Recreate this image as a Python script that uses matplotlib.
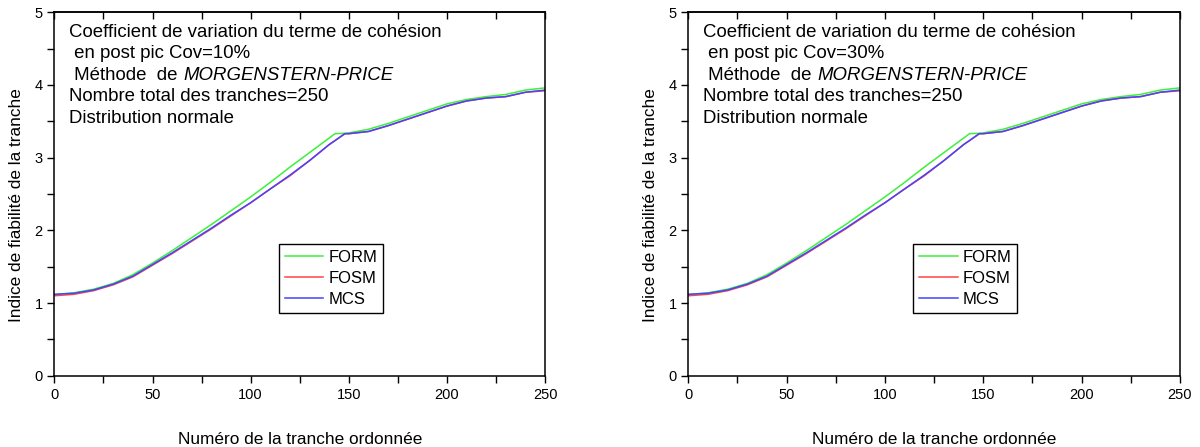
import matplotlib
matplotlib.use("Agg")
import matplotlib.pyplot as plt
from matplotlib.ticker import MultipleLocator

plt.rcParams.update({"font.family": ["Liberation Sans", "DejaVu Sans"]})

# tranche number (ordered)
tranche = [0, 10, 20, 30, 40, 50, 60, 70, 80, 90, 100, 110, 120, 130, 140,
           143, 148, 150, 160, 170, 180, 190, 200, 210, 220, 230, 240, 250]

# reliability index per method (same read-out for both panels)
form = [1.115, 1.14, 1.19, 1.27, 1.39, 1.55, 1.72, 1.90, 2.08, 2.27, 2.46,
        2.66, 2.87, 3.07, 3.27, 3.33, 3.335, 3.34, 3.39, 3.47, 3.56, 3.65,
        3.74, 3.80, 3.84, 3.87, 3.93, 3.96]
fosm = [1.10, 1.12, 1.17, 1.25, 1.36, 1.52, 1.68, 1.85, 2.02, 2.20, 2.38,
        2.57, 2.75, 2.96, 3.18, 3.235, 3.33, 3.33, 3.36, 3.44, 3.53, 3.62,
        3.71, 3.78, 3.82, 3.84, 3.90, 3.92]
mcs = [1.12, 1.135, 1.18, 1.26, 1.37, 1.53, 1.69, 1.86, 2.03, 2.21, 2.38,
       2.57, 2.76, 2.96, 3.18, 3.236, 3.33, 3.33, 3.36, 3.44, 3.53, 3.62,
       3.71, 3.78, 3.82, 3.84, 3.90, 3.93]

cov_labels = ["10%", "30%"]

GREEN, RED, BLUE = "#3cf03c", "#ff4444", "#4444ff"
FS_TXT = 13.4
FS_LAB = 12.4
FS_LEG = 12

fig = plt.figure(figsize=(12, 4.47), dpi=100)
axes = [fig.add_axes([0.0453, 0.1595, 0.409, 0.813]),
        fig.add_axes([0.5736, 0.1595, 0.4097, 0.813])]

for ax, cov in zip(axes, cov_labels):
    ax.plot(tranche, form, color=GREEN, lw=1.1, label="FORM")
    ax.plot(tranche, fosm, color=RED, lw=1.1, label="FOSM")
    ax.plot(tranche, mcs, color=BLUE, lw=1.1, label="MCS")

    ax.set_xlim(0, 250)
    ax.set_ylim(0, 5)
    ax.xaxis.set_major_locator(MultipleLocator(50))
    ax.xaxis.set_minor_locator(MultipleLocator(25))
    ax.yaxis.set_major_locator(MultipleLocator(1))
    ax.yaxis.set_minor_locator(MultipleLocator(0.5))
    ax.tick_params(which="both", direction="out", length=5, width=1,
                   labelsize=10.5, top=False, right=False)
    for sp in ax.spines.values():
        sp.set_linewidth(1.1)

    # top axis: inward ticks, no labels
    top = ax.secondary_xaxis("top")
    top.xaxis.set_major_locator(MultipleLocator(50))
    top.xaxis.set_minor_locator(MultipleLocator(25))
    top.tick_params(which="both", direction="in", length=5, width=1,
                    labeltop=False)
    top.spines["top"].set_linewidth(1.1)

    ax.set_xlabel("Numéro de la tranche ordonnée", fontsize=FS_LAB)
    ax.set_ylabel("Indice de fiabilité de la tranche", fontsize=FS_LAB)
    ax.xaxis.set_label_coords(0.5, -0.155)
    ax.yaxis.set_label_coords(-0.062, 0.47)

    x0, y0, dy = 0.0305, 0.945, 0.0592
    ax.text(x0, y0, "Coefficient de variation du terme de cohésion",
            transform=ax.transAxes, fontsize=FS_TXT, va="center")
    ax.text(x0, y0 - dy, " en post pic Cov=" + cov,
            transform=ax.transAxes, fontsize=FS_TXT, va="center")
    t1 = ax.text(x0, y0 - 2 * dy, " Méthode  de ",
                 transform=ax.transAxes, fontsize=FS_TXT, va="center")
    ax.annotate("MORGENSTERN-PRICE", xy=(1, 0), xycoords=t1,
                ha="left", va="bottom", fontsize=FS_TXT, style="italic")
    ax.text(x0, y0 - 3 * dy, "Nombre total des tranches=250",
            transform=ax.transAxes, fontsize=FS_TXT, va="center")
    ax.text(x0, y0 - 4 * dy, "Distribution normale",
            transform=ax.transAxes, fontsize=FS_TXT, va="center")

    leg = ax.legend(loc="upper left", bbox_to_anchor=(0.458, 0.362),
                    borderaxespad=0, fontsize=FS_LEG, fancybox=False,
                    edgecolor="black", framealpha=1, handlelength=2.3,
                    handletextpad=0.3, labelspacing=0.37, borderpad=0.35)
    leg.get_frame().set_linewidth(1.0)

fig.savefig("out.png", dpi=100)
